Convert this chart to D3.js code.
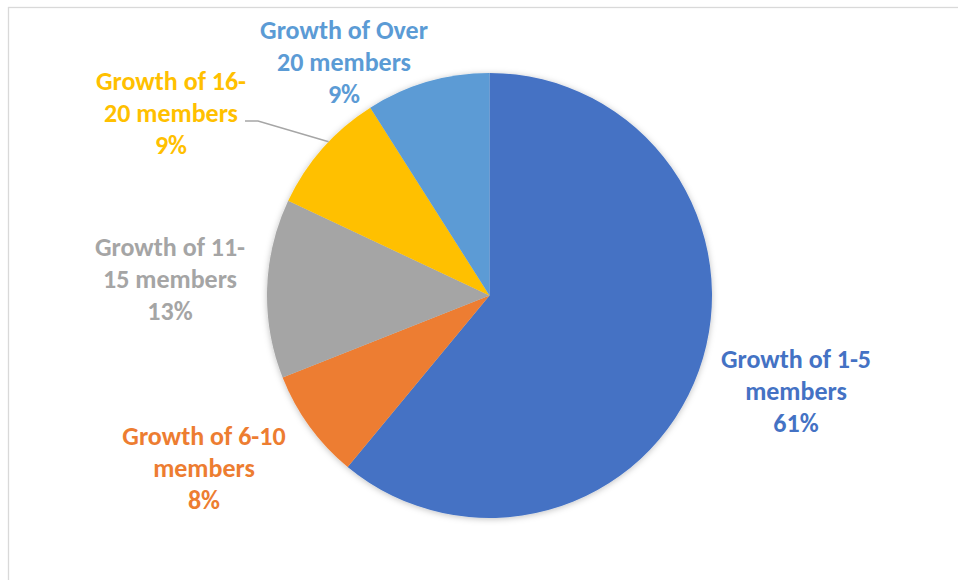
<!DOCTYPE html>
<html>
<head>
<meta charset="utf-8">
<script src="https://cdn.jsdelivr.net/npm/d3@7"></script>
<style>
  html, body { margin: 0; padding: 0; background: #ffffff; }
  svg { display: block; }
</style>
</head>
<body>
<svg id="chart" width="958" height="580"></svg>
<script>
// Growth categories and their share of the total
const categories = [
  "Growth of 1-5 members",
  "Growth of 6-10 members",
  "Growth of 11-15 members",
  "Growth of 16-20 members",
  "Growth of Over 20 members"
];
const shares = [61, 8, 13, 9, 9];

// Label text, split into the lines it wraps to
const labelLines = [
  ["Growth of 1-5", "members"],
  ["Growth of 6-10", "members"],
  ["Growth of 11-", "15 members"],
  ["Growth of 16-", "20 members"],
  ["Growth of Over", "20 members"]
];

const colors = ["#4472C4", "#ED7D31", "#A5A5A5", "#FFC000", "#5B9BD5"];

// Layout
const W = 958, H = 580;
const cx = 489.5, cy = 295.5, R = 222.5;
const lineGap = 32;
// centre x and first-line baseline of each label block
const labelAnchor = [
  [796, 368],
  [204, 445],
  [170, 256],
  [171, 90],
  [344, 39]
];
const fontFamily = "Calibri, Carlito, Lato, 'Open Sans', sans-serif";

const svg = d3.select("#chart");

// chart frame
svg.append("rect")
  .attr("x", 8.5).attr("y", 7.5)
  .attr("width", W + 20).attr("height", H + 20)
  .attr("fill", "#ffffff")
  .attr("stroke", "#D9D9D9")
  .attr("stroke-width", 1.3);

const defs = svg.append("defs");
const shadow = defs.append("filter").attr("id", "pieShadow")
  .attr("x", "-10%").attr("y", "-10%").attr("width", "120%").attr("height", "120%");
shadow.append("feDropShadow")
  .attr("dx", 0).attr("dy", 1)
  .attr("stdDeviation", 3)
  .attr("flood-color", "#000")
  .attr("flood-opacity", 0.25);

const pie = d3.pie().sort(null).value(d => d)
  .startAngle(0).endAngle(2 * Math.PI);
const arcs = pie(shares);
const arc = d3.arc().innerRadius(0).outerRadius(R);

const g = svg.append("g").attr("transform", `translate(${cx},${cy})`);
g.append("g").attr("filter", "url(#pieShadow)")
  .selectAll("path")
  .data(arcs)
  .join("path")
  .attr("d", arc)
  .attr("fill", (d, i) => colors[i]);

// leader line for the 16-20 slice
const yellow = arcs[3];
const midA = (yellow.startAngle + yellow.endAngle) / 2 + 0.04;
const endPt = [cx + R * Math.sin(midA), cy - R * Math.cos(midA)];
svg.append("polyline")
  .attr("points", [[245, 121], [258, 121], endPt].map(p => p.join(",")).join(" "))
  .attr("fill", "none")
  .attr("stroke", "#A6A6A6")
  .attr("stroke-width", 1.5);

// labels
const labels = svg.append("g")
  .attr("font-family", fontFamily)
  .attr("font-weight", "bold")
  .attr("font-size", 26)
  .attr("text-anchor", "middle");

arcs.forEach((a, i) => {
  const [x, y] = labelAnchor[i];
  const lines = labelLines[i].concat([shares[i] + "%"]);
  const t = labels.append("text")
    .attr("fill", colors[i])
    .attr("x", x).attr("y", y);
  lines.forEach((ln, k) => {
    t.append("tspan").attr("x", x).attr("y", y + k * lineGap).text(ln);
  });
});
</script>
</body>
</html>
